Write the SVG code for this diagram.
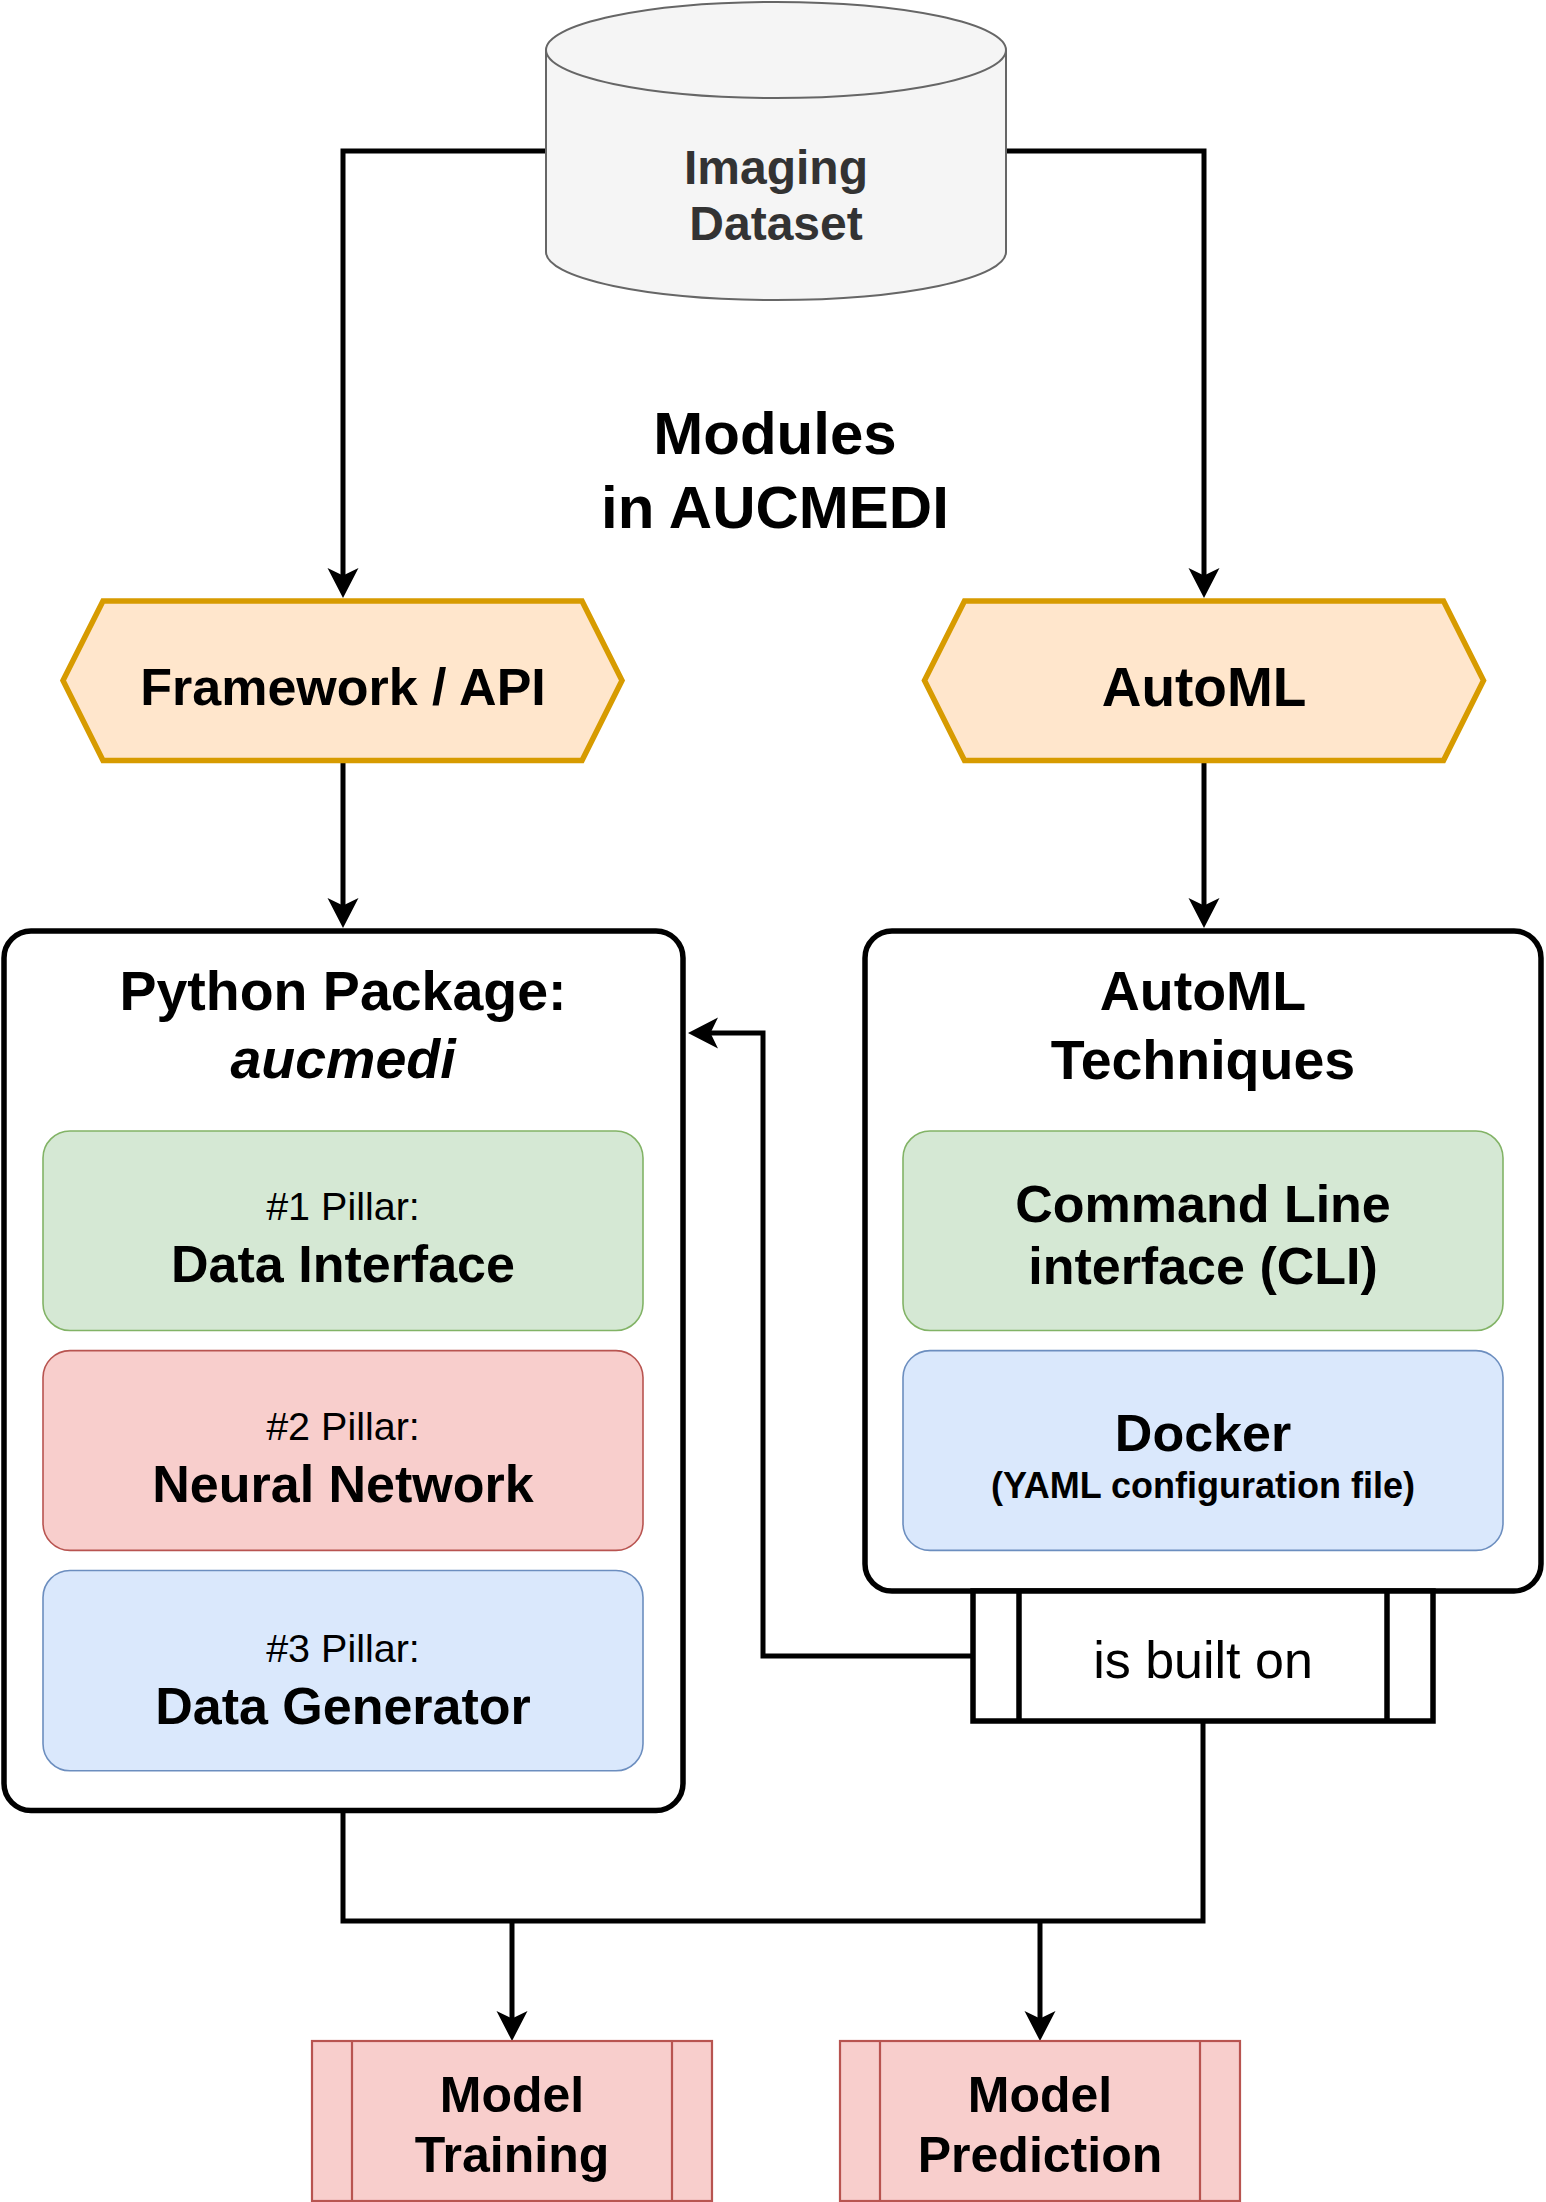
<svg xmlns="http://www.w3.org/2000/svg" width="1546" height="2202" viewBox="0 0 1546 2202">
<style>
text{font-family:"Liberation Sans",Arial,Helvetica,sans-serif;text-anchor:middle;fill:#000}
.b{font-weight:bold}
.hex{fill:#ffe6cc;stroke:#d79b00;stroke-width:5.5;stroke-linejoin:miter}
.big{fill:#fff;stroke:#000;stroke-width:5.5}
.green{fill:#d5e8d4;stroke:#82b366;stroke-width:1.6}
.red{fill:#f8cecc;stroke:#b85450;stroke-width:1.6}
.blue{fill:#dae8fc;stroke:#6c8ebf;stroke-width:1.6}
.proc{fill:#f8cecc;stroke:#b85450;stroke-width:2.2}
.edge{fill:none;stroke:#000;stroke-width:5}
.f52{font-size:52px}
.f39{font-size:39.5px}
.f55{font-size:55.5px}
</style>
<defs>
<marker id="arr" markerUnits="userSpaceOnUse" markerWidth="36" markerHeight="36" viewBox="-12 -18 36 36" refX="0" refY="0" orient="auto">
<path d="M20,0 L-10,-15.5 L-2.5,0 L-10,15.5 Z" fill="#000"/>
</marker>
</defs>

<g id="connectors">
<path class="edge" d="M546,151 H343 V578" marker-end="url(#arr)"/>
<path class="edge" d="M1006,151 H1204 V578" marker-end="url(#arr)"/>
<path class="edge" d="M343,761 V908" marker-end="url(#arr)"/>
<path class="edge" d="M1204,761 V908" marker-end="url(#arr)"/>
<path class="edge" d="M973,1656 H763 V1033 H708" marker-end="url(#arr)"/>
<path class="edge" d="M343,1810 V1921 H1203 V1721"/>
<path class="edge" d="M512,1921 V2021" marker-end="url(#arr)"/>
<path class="edge" d="M1040,1921 V2021" marker-end="url(#arr)"/>
</g>

<g id="imaging-dataset">
<path d="M546,50 A230,48 0 0 1 1006,50 V252 A230,48 0 0 1 546,252 Z" fill="#f5f5f5" stroke="#666666" stroke-width="2"/>
<path d="M546,50 A230,48 0 0 0 1006,50" fill="none" stroke="#666666" stroke-width="2"/>
<text class="b" x="776" y="184" font-size="48" style="fill:#333333">Imaging</text>
<text class="b" x="776" y="240" font-size="48" style="fill:#333333">Dataset</text>
</g>

<g id="title">
<text class="b" x="775" y="454" font-size="60">Modules</text>
<text class="b" x="775" y="528" font-size="60">in AUCMEDI</text>
</g>

<g id="framework-api">
<polygon class="hex" points="63,680.5 103,601 582,601 622,680.5 582,760.5 103,760.5"/>
<text class="b f52" x="343" y="705">Framework / API</text>
</g>

<g id="automl">
<polygon class="hex" points="924.5,680.5 964.5,601 1443.5,601 1483.5,680.5 1443.5,760.5 964.5,760.5"/>
<text class="b" x="1204" y="705.5" font-size="55">AutoML</text>
</g>

<g id="python-package">
<rect class="big" x="4" y="931" width="679" height="879.5" rx="27" ry="27"/>
<text class="b f55" x="343" y="1010">Python Package:</text>
<text class="b f55" x="343" y="1078" font-style="italic">aucmedi</text>
</g>

<g id="data-interface">
<rect class="green" x="43" y="1131" width="600" height="199.5" rx="27" ry="27"/>
<text class="f39" x="343" y="1219.5">#1 Pillar:</text>
<text class="b f52" x="343" y="1282">Data Interface</text>
</g>

<g id="neural-network">
<rect class="red" x="43" y="1350.6" width="600" height="199.8" rx="27" ry="27"/>
<text class="f39" x="343" y="1439.6">#2 Pillar:</text>
<text class="b f52" x="343" y="1501.6">Neural Network</text>
</g>

<g id="data-generator">
<rect class="blue" x="43" y="1570.5" width="600" height="200.3" rx="27" ry="27"/>
<text class="f39" x="343" y="1662.3">#3 Pillar:</text>
<text class="b f52" x="343" y="1723.8">Data Generator</text>
</g>

<g id="automl-techniques">
<rect class="big" x="865" y="931" width="676" height="660" rx="27" ry="27"/>
<text class="b f55" x="1203" y="1010">AutoML</text>
<text class="b f55" x="1203" y="1079">Techniques</text>
</g>

<g id="cli">
<rect class="green" x="903" y="1131" width="600" height="199.5" rx="27" ry="27"/>
<text class="b f52" x="1203" y="1221.5">Command Line</text>
<text class="b f52" x="1203" y="1283.5">interface (CLI)</text>
</g>

<g id="docker">
<rect class="blue" x="903" y="1350.6" width="600" height="199.8" rx="27" ry="27"/>
<text class="b f52" x="1203" y="1451">Docker</text>
<text class="b" x="1203" y="1497.5" font-size="36">(YAML configuration file)</text>
</g>

<g id="is-built-on">
<rect x="973" y="1591" width="460" height="130" fill="#fff" stroke="#000" stroke-width="5.5"/>
<line x1="1019" y1="1591" x2="1019" y2="1721" stroke="#000" stroke-width="5.5"/>
<line x1="1387" y1="1591" x2="1387" y2="1721" stroke="#000" stroke-width="5.5"/>
<text x="1203" y="1678" font-size="52">is built on</text>
</g>

<g id="model-training">
<rect class="proc" x="312" y="2041" width="400" height="160"/>
<line x1="352" y1="2041" x2="352" y2="2201" stroke="#b85450" stroke-width="2.2"/>
<line x1="672" y1="2041" x2="672" y2="2201" stroke="#b85450" stroke-width="2.2"/>
<text class="b" x="512" y="2111.7" font-size="50">Model</text>
<text class="b" x="512" y="2172" font-size="50">Training</text>
</g>

<g id="model-prediction">
<rect class="proc" x="840" y="2041" width="400" height="160"/>
<line x1="880" y1="2041" x2="880" y2="2201" stroke="#b85450" stroke-width="2.2"/>
<line x1="1200" y1="2041" x2="1200" y2="2201" stroke="#b85450" stroke-width="2.2"/>
<text class="b" x="1040" y="2111.7" font-size="50">Model</text>
<text class="b" x="1040" y="2172" font-size="50">Prediction</text>
</g>
</svg>
